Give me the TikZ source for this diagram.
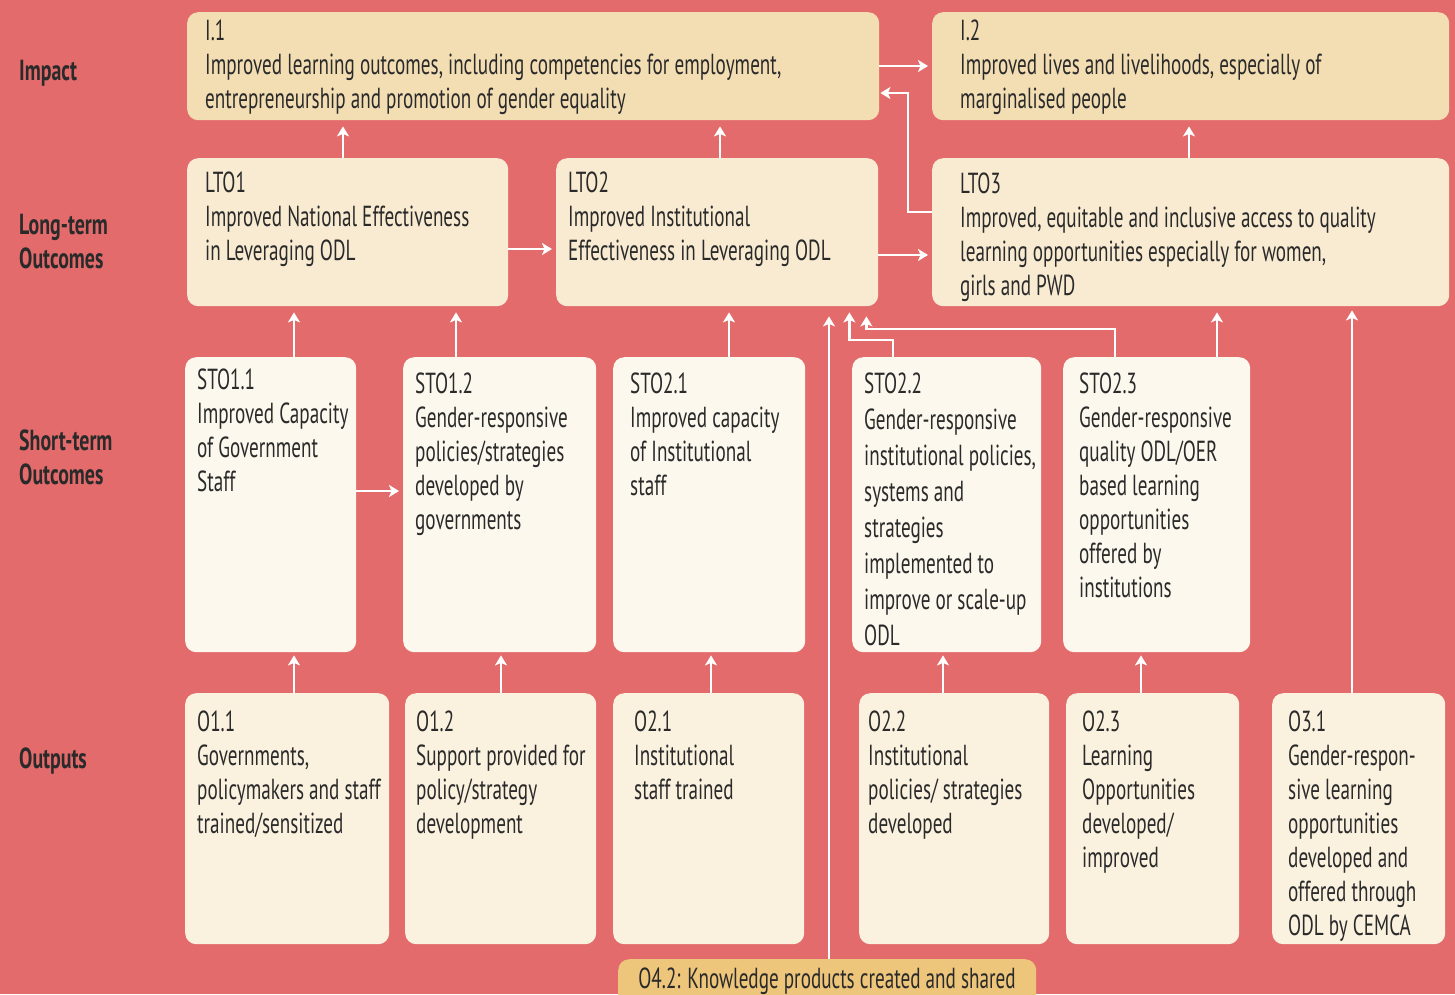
\documentclass[tikz,border=0pt]{standalone}
\usepackage{fontspec}
\setmainfont[FakeStretch=0.66,BoldFeatures={FakeStretch=0.685}]{PT Sans}
\usetikzlibrary{arrows.meta,calc}
\definecolor{bg}{HTML}{E36B6B}
\definecolor{impc}{HTML}{F3DEB4}
\definecolor{ltoc}{HTML}{F8EBD1}
\definecolor{stoc}{HTML}{FCF8ED}
\definecolor{outc}{HTML}{FAF1DF}
\definecolor{kpc}{HTML}{EDC57B}
\definecolor{ink}{HTML}{2A2A2A}
\begin{document}
\begin{tikzpicture}[x=1pt,y=-1pt,
  box/.style={anchor=north west, inner sep=0pt, rounded corners=11pt, draw=none},
  txt/.style={anchor=north west, inner sep=0pt, align=left, text=ink, font=\fontsize{29}{34}\selectfont},
  lbl/.style={anchor=north west, inner sep=0pt, align=left, text=ink, font=\fontsize{29}{34}\selectfont\bfseries},
  arr/.style={draw=white, line width=2.6pt, -{Stealth[length=10pt,width=12pt,inset=2.5pt]}}]
\useasboundingbox (0,0) rectangle (1455,994);
\fill[bg] (0,0) rectangle (1455,994);
\clip (0,0) rectangle (1455,994);

% row labels
\node[lbl] (limp) at (19,60) {Impact};
\node[lbl] (llto) at (19,214) {Long-term\\Outcomes};
\node[lbl] (lsto) at (19,430) {Short-term\\Outcomes};
\node[lbl] (lout) at (19,748) {Outputs};

% impact
\node[box, fill=impc, minimum width=692pt, minimum height=108pt] (i1) at (187,12) {};
\node[box, fill=impc, minimum width=517pt, minimum height=108pt] (i2) at (932,12) {};
% long-term
\node[box, fill=ltoc, minimum width=321pt, minimum height=148pt] (lto1) at (187,158) {};
\node[box, fill=ltoc, minimum width=322pt, minimum height=148pt] (lto2) at (556,158) {};
\node[box, fill=ltoc, minimum width=517pt, minimum height=148pt] (lto3) at (932,158) {};
% short-term
\node[box, fill=stoc, minimum width=171pt, minimum height=295pt] (st11) at (185,357) {};
\node[box, fill=stoc, minimum width=193pt, minimum height=295pt] (st12) at (403,357) {};
\node[box, fill=stoc, minimum width=192pt, minimum height=295pt] (st21) at (613,357) {};
\node[box, fill=stoc, minimum width=189pt, minimum height=295pt] (st22) at (852,357) {};
\node[box, fill=stoc, minimum width=187pt, minimum height=295pt] (st23) at (1063,357) {};
% outputs
\node[box, fill=outc, minimum width=204pt, minimum height=251pt] (o11) at (185,693) {};
\node[box, fill=outc, minimum width=191pt, minimum height=251pt] (o12) at (405,693) {};
\node[box, fill=outc, minimum width=191pt, minimum height=251pt] (o21) at (613,693) {};
\node[box, fill=outc, minimum width=190pt, minimum height=251pt] (o22) at (859,693) {};
\node[box, fill=outc, minimum width=173pt, minimum height=251pt] (o23) at (1066,693) {};
\node[box, fill=outc, minimum width=173pt, minimum height=251pt] (o31) at (1272,693) {};
\node[box, fill=kpc, minimum width=418pt, minimum height=60pt] (o42) at (618,959) {};

% texts
\node[txt] (i1t) at (205,20) {I.1\\Improved learning outcomes, including competencies for employment,\\entrepreneurship and promotion of gender equality};
\node[txt] (i2t) at (960,20) {I.2\\Improved lives and livelihoods, especially of\\marginalised people};
\node[txt] (lto1t) at (205,172) {LTO1\\Improved National Effectiveness\\in Leveraging ODL};
\node[txt] (lto2t) at (568,172) {LTO2\\Improved Institutional\\Effectiveness in Leveraging ODL};
\node[txt] (lto3t) at (960,173) {LTO3\\Improved, equitable and inclusive access to quality\\learning opportunities especially for women,\\girls and PWD};
\node[txt] (st11t) at (197,369) {STO1.1\\Improved Capacity\\of Government\\Staff};
\node[txt] (st12t) at (415,373) {STO1.2\\Gender-responsive\\policies/strategies\\developed by\\governments};
\node[txt] (st21t) at (630,373) {STO2.1\\Improved capacity\\of Institutional\\staff};
\node[txt, font=\fontsize{29}{36}\selectfont] (st22t) at (864,373) {STO2.2\\Gender-responsive\\institutional policies,\\systems and\\strategies\\implemented to\\improve or scale-up\\ODL};
\node[txt] (st23t) at (1079,373) {STO2.3\\Gender-responsive\\quality ODL/OER\\based learning\\opportunities\\offered by\\institutions};
\node[txt] (o11t) at (197,711) {O1.1\\Governments,\\policymakers and staff\\trained/sensitized};
\node[txt] (o12t) at (416,711) {O1.2\\Support provided for\\policy/strategy\\development};
\node[txt] (o21t) at (634,711) {O2.1\\Institutional\\staff trained};
\node[txt] (o22t) at (868,711) {O2.2\\Institutional\\policies/ strategies\\developed};
\node[txt] (o23t) at (1082,711) {O2.3\\Learning\\Opportunities\\developed/\\improved};
\node[txt] (o31t) at (1288,711) {O3.1\\Gender-respon-\\sive learning\\opportunities\\developed and\\offered through\\ODL by CEMCA};
\node[txt, anchor=north] (o42t) at (827,968) {O4.2: Knowledge products created and shared};

% connectors
\draw[arr, shorten >=6pt] ([xshift=109pt]st11.north west) -- ([xshift=109pt]st11.north west |- lto1.south);
\draw[arr, shorten >=6pt] ([xshift=53pt]st12.north west) -- ([xshift=53pt]st12.north west |- lto1.south);
\draw[arr, shorten >=6pt] ([xshift=116pt]st21.north west) -- ([xshift=116pt]st21.north west |- lto2.south);
\draw[arr, shorten >=10pt] ([xshift=211pt]o42.north west) -- ([xshift=211pt]o42.north west |- lto2.south);
\draw[arr, shorten >=6pt] ([xshift=41pt]st22.north west) -- ++(0,-17) -| ([xshift=-29pt]lto2.south east);
\draw[arr, shorten >=10pt] ([xshift=52pt]st23.north west) -- ++(0,-28) -| ([xshift=-12pt]lto2.south east);
\draw[arr, shorten >=6pt] ([xshift=154pt]st23.north west) -- ([xshift=154pt]st23.north west |- lto3.south);
\draw[arr, shorten >=4pt] ([xshift=80pt]o31.north west) -- ([xshift=80pt]o31.north west |- lto3.south);
\draw[arr, shorten >=6pt] ([xshift=156pt]lto1.north west) -- ([xshift=156pt]lto1.north west |- i1.south);
\draw[arr, shorten >=6pt] ([xshift=164pt]lto2.north west) -- ([xshift=164pt]lto2.north west |- i1.south);
\draw[arr, shorten >=6pt] ([xshift=257pt]lto3.north west) -- ([xshift=257pt]lto3.north west |- i2.south);
\draw[arr, shorten >=4pt] ([yshift=-54pt]i1.north east) -- ([yshift=-54pt]i1.north east -| i2.west);
\draw[arr, shorten >=1pt] ([yshift=-54pt]lto3.north west) -- ++(-24,0) |- ([yshift=-81pt]i1.north east);
\draw[arr, shorten >=4pt] ([yshift=-97pt]lto2.north east) -- ([yshift=-97pt]lto2.north east -| lto3.west);
\draw[arr, shorten >=4pt] ([yshift=-91pt]lto1.north east) -- ([yshift=-91pt]lto1.north east -| lto2.west);
\draw[arr, shorten >=4pt] ([yshift=-134pt]st11.north east) -- ([yshift=-134pt]st11.north east -| st12.west);
\draw[arr, shorten >=3pt] ([xshift=109pt]o11.north west) -- ([xshift=109pt]o11.north west |- st11.south);
\draw[arr, shorten >=3pt] ([xshift=96pt]o12.north west) -- ([xshift=96pt]o12.north west |- st12.south);
\draw[arr, shorten >=3pt] ([xshift=98pt]o21.north west) -- ([xshift=98pt]o21.north west |- st21.south);
\draw[arr, shorten >=3pt] ([xshift=84pt]o22.north west) -- ([xshift=84pt]o22.north west |- st22.south);
\draw[arr, shorten >=3pt] ([xshift=75pt]o23.north west) -- ([xshift=75pt]o23.north west |- st23.south);
\end{tikzpicture}
\end{document}
